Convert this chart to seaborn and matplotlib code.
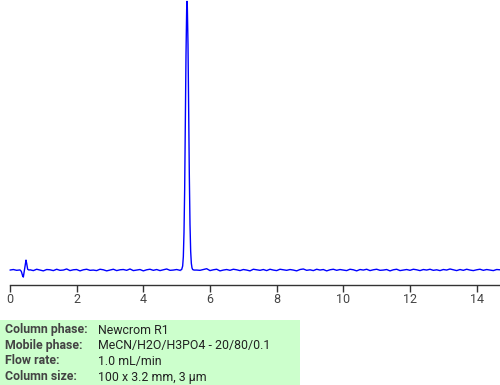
import numpy as np
import pandas as pd
import matplotlib
matplotlib.use("Agg")
import matplotlib.pyplot as plt
import seaborn as sns

baseline_start = 0.0
baseline_step = 0.1
baseline_noise = [
    0.0, 0.2, -0.1, 0.1, 0.0, 0.0, 0.1, -0.2, 0.3, 0.0,
    -0.3, 0.2, 0.1, -0.2, 0.3, -0.1, 0.0, 0.4, -0.2, 0.1,
    0.2, -0.3, 0.1, 0.3, -0.1, 0.0, -0.2, 0.3, 0.1, -0.3,
    0.0, 0.3, -0.2, 0.1, 0.2, -0.1, 0.4, -0.2, 0.0, 0.2,
    -0.3, 0.1, 0.3, -0.1, 0.2, -0.2, 0.1, 0.4, -0.1, 0.0,
    0.2, -0.2, 0.1, 0.0, 0.3, 0.0, 0.0, -0.1, 0.2, 0.5,
    -0.2, 0.1, 0.3, -0.3, 0.0, 0.2, -0.1, 0.3, 0.1, -0.2,
    0.2, 0.0, -0.3, 0.3, 0.1, -0.1, 0.2, -0.2, 0.3, 0.0,
    -0.2, 0.3, 0.1, -0.1, 0.2, 0.0, -0.3, 0.2, 0.4, -0.1,
    0.1, -0.2, 0.3, 0.0, 0.2, -0.3, 0.1, 0.3, -0.1, 0.2,
    0.0, -0.2, 0.3, 0.1, -0.3, 0.2, 0.0, 0.3, -0.2, 0.1,
    0.3, -0.1, 0.0, 0.2, -0.3, 0.1, 0.3, -0.2, 0.0, 0.2,
    -0.1, 0.3, 0.1, -0.2, 0.2, 0.0, 0.3, -0.1, 0.1, -0.2,
    0.2, 0.0, 0.4, 0.1, -0.2, 0.2, -0.1, 0.3, 0.0, -0.2,
    0.1, 0.3, -0.1, 0.2, 0.0, -0.2, 0.2, 0.1,
]

# Injection disturbance near 0.45 min
bump_time = [0.30, 0.34, 0.38, 0.40, 0.42, 0.45, 0.48, 0.50, 0.53, 0.57]
bump_signal = [0.0, -0.5, -2.2, -2.6, -1.0, 1.5, 3.7, 2.5, 0.3, 0.0]

# Main peak at ~5.31 min
peak_time = [5.10, 5.15, 5.18, 5.20, 5.22, 5.24, 5.26, 5.28, 5.30, 5.31,
             5.32, 5.34, 5.36, 5.38, 5.40, 5.42, 5.44, 5.46, 5.48, 5.52]
peak_signal = [0.0, 0.2, 1.5, 5.0, 14.0, 30.0, 55.0, 80.0, 97.0, 100.0,
               98.0, 84.0, 60.0, 35.0, 17.0, 7.0, 2.5, 0.8, 0.2, 0.0]

x_ticks = [0, 2, 4, 6, 8, 10, 12, 14]

info_labels = ["Column phase:", "Mobile phase:", "Flow rate:", "Column size:"]
info_values = ["Newcrom R1", "MeCN/H2O/H3PO4 - 20/80/0.1", "1.0 mL/min",
               "100 x 3.2 mm, 3 µm"]

# Build the trace
base_t = np.round(baseline_start + baseline_step * np.arange(len(baseline_noise)), 2)
base_y = np.array(baseline_noise)
mask = ~(((base_t > bump_time[0]) & (base_t < bump_time[-1])) |
         ((base_t > peak_time[0]) & (base_t < peak_time[-1])))
t = np.concatenate([base_t[mask], bump_time, peak_time])
y = np.concatenate([base_y[mask], bump_signal, peak_signal])
order = np.argsort(t, kind="stable")
df = pd.DataFrame({"time": t[order], "signal": y[order]})

sns.set_style("white")
plt.rcParams["font.family"] = ["Roboto", "DejaVu Sans"]

fig = plt.figure(figsize=(5.0, 3.85), dpi=100)
ax = fig.add_axes([0.0, 100 / 385, 1.0, 285 / 385])
sns.lineplot(data=df, x="time", y="signal", ax=ax, color="#0000ff",
             linewidth=1.0, sort=False)
ax.set_xlim(-0.3, 14.7)
ax.set_ylim(-5.56, 100.5)
ax.set_xlabel("")
ax.set_ylabel("")
ax.set_yticks([])
ax.set_xticks(x_ticks)
ax.set_xticklabels([str(v) for v in x_ticks])
for s in ["top", "right", "left"]:
    ax.spines[s].set_visible(False)
ax.spines["bottom"].set_color("#333333")
ax.spines["bottom"].set_linewidth(1.0)
ax.spines["bottom"].set_bounds(0, 14.7)
ax.tick_params(axis="x", direction="out", length=5, width=1, color="#333333",
               labelcolor="#444444", labelsize=9, pad=1, bottom=True)

# Info box
box = plt.Rectangle((0, 0), 300 / 500, 65 / 385, transform=fig.transFigure,
                    facecolor="#ccffcc", edgecolor="none")
fig.patches.append(box)
ys = [330, 346, 361, 377]
for lab, val, py in zip(info_labels, info_values, ys):
    fig.text(5 / 500, 1 - py / 385, lab, fontsize=8.9, fontweight="bold",
             color="#444444", va="center", ha="left")
    fig.text(98 / 500, 1 - py / 385, val, fontsize=8.9, color="#222222",
             va="center", ha="left")

fig.savefig("out.png", dpi=100)
